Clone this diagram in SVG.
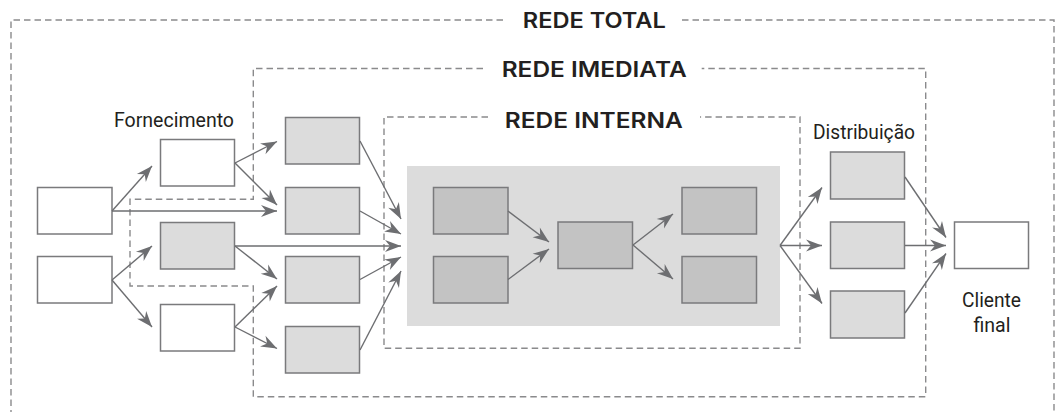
<svg xmlns="http://www.w3.org/2000/svg" width="1056" height="412" viewBox="0 0 1056 412">
<defs>
<style>
.dash{fill:none;stroke:#8a8a8c;stroke-width:1.4;stroke-dasharray:6.5 4}
.bw{fill:#ffffff;stroke:#7a7a7c;stroke-width:1.5}
.bg{fill:#dcdcdc;stroke:#7a7a7c;stroke-width:1.5}
.bd{fill:#c3c3c3;stroke:#7a7a7c;stroke-width:1.5}
.title{font-family:Inter,"Liberation Sans",sans-serif;font-weight:600;font-size:21px;fill:#231f20}
.lbl{font-family:Roboto,"Liberation Sans",sans-serif;font-size:21px;fill:#231f20}
.cn path{fill:none;stroke:#6d6e71;stroke-width:1.4;marker-end:url(#ah)}
</style>
<marker id="ah" markerUnits="userSpaceOnUse" markerWidth="20" markerHeight="14" viewBox="-17 -7 20 14" refX="0" refY="0" orient="auto">
<path d="M0,0 L-16,-6 L-11,0 L-16,6 Z" fill="#6d6e71"/>
</marker>
</defs>
<rect width="1056" height="412" fill="#ffffff"/>

<g id="rede-total">
<path class="dash" d="M503,20 H11 V420 M682,20 H1054 V420"/>
<text class="title" x="594.3" y="28.3" text-anchor="middle" textLength="143" lengthAdjust="spacingAndGlyphs">REDE TOTAL</text>
</g>
<g id="rede-imediata">
<path class="dash" d="M483,68.5 H253.3 V199.3 H130 V286 H253.3 V396.7 H925.7 V68.5 H701.7"/>
<text class="title" x="594.2" y="76.7" text-anchor="middle" textLength="185" lengthAdjust="spacingAndGlyphs">REDE IMEDIATA</text>
</g>
<g id="rede-interna">
<rect x="407" y="166" width="373" height="160" fill="#dcdcdc"/>
<path class="dash" d="M488,117 H384 V348.3 H800 V117 H700"/>
<text class="title" x="593.8" y="128.3" text-anchor="middle" textLength="178" lengthAdjust="spacingAndGlyphs">REDE INTERNA</text>
</g>

<g id="labels">
<text class="lbl" x="114" y="127" textLength="120" lengthAdjust="spacingAndGlyphs">Fornecimento</text>
<text class="lbl" x="813" y="139.3" textLength="102" lengthAdjust="spacingAndGlyphs">Distribuição</text>
<text class="lbl" x="991.5" y="307.3" text-anchor="middle" textLength="59" lengthAdjust="spacingAndGlyphs">Cliente</text>
<text class="lbl" x="992" y="332" text-anchor="middle" textLength="37" lengthAdjust="spacingAndGlyphs">final</text>
</g>

<g id="n-a"><rect class="bw" x="37.5" y="187.5" width="74.5" height="46.5"/></g>
<g id="n-b"><rect class="bw" x="37.5" y="256.5" width="74.5" height="46.5"/></g>
<g id="n-ftop"><rect class="bw" x="160.5" y="139.5" width="74" height="46.5"/></g>
<g id="n-fmid"><rect class="bg" x="160.5" y="222.5" width="74" height="46.5"/></g>
<g id="n-fbot"><rect class="bw" x="160.5" y="304.5" width="74" height="46.5"/></g>
<g id="n-c1"><rect class="bg" x="285.5" y="117.5" width="74" height="46.5"/></g>
<g id="n-c2"><rect class="bg" x="285.5" y="187.5" width="74" height="46.5"/></g>
<g id="n-c3"><rect class="bg" x="285.5" y="256.5" width="74" height="46.5"/></g>
<g id="n-c4"><rect class="bg" x="285.5" y="326.5" width="74" height="46.5"/></g>
<g id="n-i1"><rect class="bd" x="433.5" y="187.5" width="74.5" height="46.5"/></g>
<g id="n-i2"><rect class="bd" x="433.5" y="256.5" width="74.5" height="46.5"/></g>
<g id="n-m"><rect class="bd" x="558" y="222" width="74.5" height="46.5"/></g>
<g id="n-o1"><rect class="bd" x="682" y="187.5" width="74.5" height="46.5"/></g>
<g id="n-o2"><rect class="bd" x="682" y="256.5" width="74.5" height="46.5"/></g>
<g id="n-d1"><rect class="bg" x="830.5" y="152" width="74" height="47"/></g>
<g id="n-d2"><rect class="bg" x="830.5" y="222" width="74" height="46.5"/></g>
<g id="n-d3"><rect class="bg" x="830.5" y="291" width="74" height="47"/></g>
<g id="n-client"><rect class="bw" x="954.5" y="222" width="74" height="46.5"/></g>

<g id="connectors" class="cn">
<path d="M112,211 L152,166"/>
<path d="M112,211 L277,211"/>
<path d="M112,280 L152,246"/>
<path d="M112,280 L152,327"/>
<path d="M235,163 L277,141.5"/>
<path d="M235,163 L277,205"/>
<path d="M235,246 L401,246"/>
<path d="M235,246 L277,279"/>
<path d="M235,327 L277,286"/>
<path d="M235,327 L277,348.5"/>
<path d="M360,141 L401,219"/>
<path d="M360,211 L401,234"/>
<path d="M360,279.5 L401,257"/>
<path d="M360,350 L401,271"/>
<path d="M508,211 L549,242"/>
<path d="M508,279.5 L549,249"/>
<path d="M633,245 L673,214"/>
<path d="M633,245 L673,279"/>
<path d="M780,245.5 L822,187.5"/>
<path d="M780,245.5 L822,245.5"/>
<path d="M780,245.5 L822,303.5"/>
<path d="M905,177 L946,237.5"/>
<path d="M905,245.5 L946,245.5"/>
<path d="M905,313 L946,253.5"/>
</g>
</svg>
